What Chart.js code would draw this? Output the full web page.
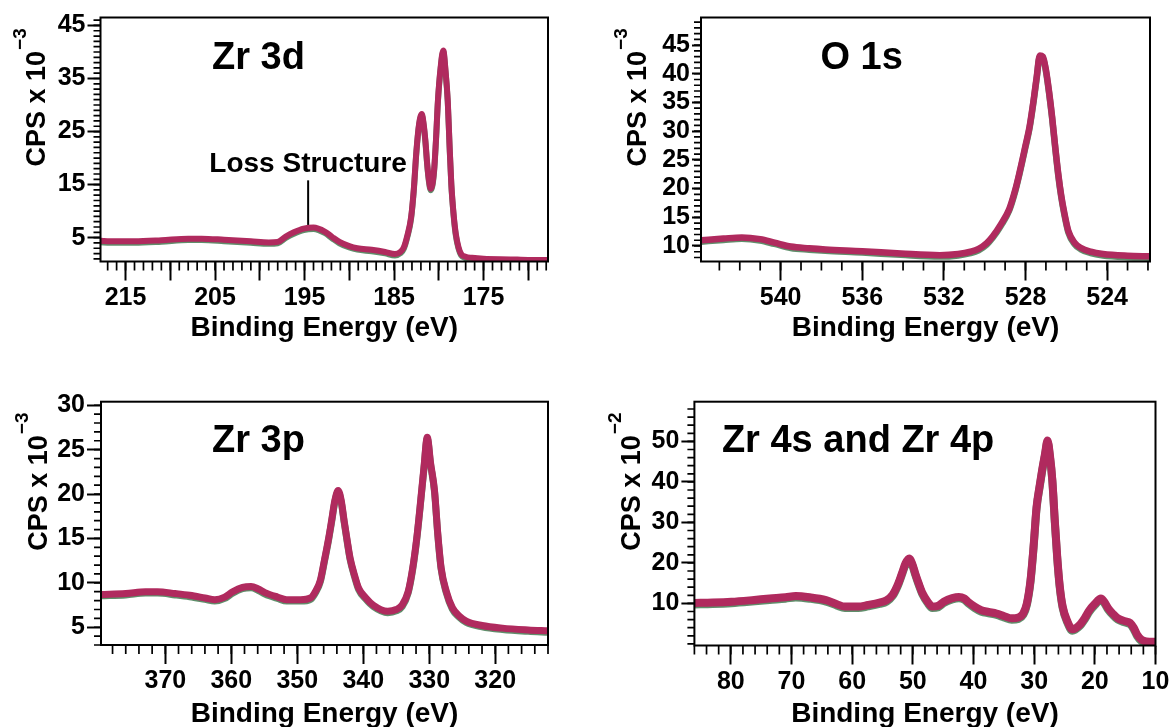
<!DOCTYPE html>
<html>
<head>
<meta charset="utf-8">
<script src="https://cdn.jsdelivr.net/npm/chart.js@4.4.1/dist/chart.umd.min.js"></script>
<style>
html,body{margin:0;padding:0;background:#fff;overflow:hidden;width:1171px;height:727px;}
canvas{position:absolute;left:0;top:0;}
</style>
</head>
<body>
<canvas id="c1" width="1200" height="760"></canvas>
<canvas id="c2" width="1200" height="760"></canvas>
<canvas id="c3" width="1200" height="760"></canvas>
<canvas id="c4" width="1200" height="760"></canvas>
<script>
// ---------------- DATA ----------------
// Zr 3d
const zr3dTitle = 'Zr 3d';
const zr3dEnergy = [217.8, 216.7, 214, 211, 208, 206.5, 204, 201, 199, 198, 197.1, 196.2, 195.1, 194, 192.7, 191.9, 191.1, 190, 189.1, 187.5, 186, 184.9, 184.3, 183.9, 183.5, 183.1, 182.8, 182.5, 182.2, 181.9, 181.7, 181.5, 181.3, 181.1, 180.9, 180.7, 180.5, 180.3, 180.1, 179.8, 179.5, 179.25, 179.0, 178.8, 178.6, 178.35, 178.1, 177.8, 177.5, 177, 176.3, 175, 172, 170, 167.8];
const zr3dCps = [4.4, 4.3, 4.3, 4.5, 4.8, 4.8, 4.6, 4.3, 4.1, 4.2, 5.2, 6.0, 6.7, 6.9, 6.1, 5.1, 4.2, 3.4, 3.0, 2.7, 2.3, 1.9, 2.3, 3.2, 5.5, 8.8, 14, 21.4, 26.5, 28.3, 26.5, 23.3, 19, 15.8, 14.2, 15.2, 18.3, 24, 30.8, 37, 40.3, 36.5, 30.8, 22.5, 15.1, 9.5, 5.7, 3.2, 1.9, 1.4, 1.2, 1.0, 0.9, 0.8, 0.8];
const zr3dXTicks = [215, 210, 205, 200, 195, 190, 185, 180, 175, 170];
const zr3dXLabels = [215, 205, 195, 185, 175];
const zr3dYLabels = [5, 15, 25, 35, 45];
const zr3dNote = 'Loss Structure';

// O 1s
const o1sTitle = 'O 1s';
const o1sEnergy = [543.9, 542.8, 541.9, 541.0, 540.3, 539.5, 538.6, 537.8, 536.0, 534.1, 532.2, 531.3, 530.7, 530.3, 529.9, 529.6, 529.2, 528.8, 528.5, 528.3, 528.0, 527.8, 527.6, 527.45, 527.3, 527.15, 527.0, 526.85, 526.7, 526.55, 526.4, 526.25, 526.1, 525.9, 525.6, 525.3, 524.8, 524.2, 523, 521.9];
const o1sCps = [11.0, 11.3, 11.5, 11.2, 10.6, 9.9, 9.6, 9.4, 9.1, 8.7, 8.4, 8.6, 9.0, 9.5, 10.5, 11.7, 13.8, 16.4, 19.8, 22.7, 27.5, 30.8, 35.5, 39.5, 43.2, 43.0, 40.7, 37.0, 32.6, 27.5, 22.7, 18.8, 15.8, 12.6, 10.6, 9.7, 9.0, 8.6, 8.3, 8.2];
const o1sXLabels = [540, 536, 532, 528, 524];
const o1sYLabels = [10, 15, 20, 25, 30, 35, 40, 45];

// Zr 3p
const zr3pTitle = 'Zr 3p';
const zr3pEnergy = [379.75, 376, 373, 371.2, 368.5, 366.3, 364, 362.5, 361, 359.8, 358.3, 357, 355.9, 354.9, 353, 351.6, 349.5, 348, 347.2, 346.5, 345.9, 345.3, 344.8, 344.3, 343.8, 343.35, 342.9, 342.4, 342.0, 341.3, 340.7, 339.6, 338.5, 336.3, 335, 334.1, 333.2, 332.5, 331.9, 331.4, 330.8, 330.3, 329.8, 329.2, 328.7, 328.2, 327.4, 326.5, 325.5, 324.4, 322, 318.9, 315, 312];
const zr3pCps = [8.7, 8.8, 9.0, 9.0, 8.8, 8.6, 8.3, 8.1, 8.4, 9.0, 9.5, 9.6, 9.3, 8.9, 8.4, 8.1, 8.1, 8.3, 9.1, 10.3, 12.5, 14.8, 17.0, 19.3, 20.4, 19.3, 17.0, 14.6, 12.8, 10.8, 9.4, 8.3, 7.5, 6.8, 7.0, 7.5, 9.0, 11.7, 15, 18.5, 23, 26.4, 23.5, 20.4, 15.5, 11.7, 9, 7.2, 6.3, 5.7, 5.2, 4.9, 4.7, 4.6];
const zr3pXLabels = [370, 360, 350, 340, 330, 320];
const zr3pYLabels = [5, 10, 15, 20, 25, 30];

// Zr 4s and Zr 4p
const zr4Title = 'Zr 4s and Zr 4p';
const zr4Energy = [86, 83, 79.9, 76.5, 73.6, 71, 69.3, 67, 64.3, 62.5, 61.2, 59, 57.4, 55.5, 54.3, 53.3, 52.4, 51.7, 51.2, 50.6, 50.1, 49.6, 49, 48.4, 47.6, 46.8, 45.8, 44.9, 43.5, 42.4, 41.5, 40.9, 39.8, 38.7, 37.5, 36.2, 35, 33.7, 32.6, 31.8, 31.2, 30.6, 30.1, 29.6, 29.1, 28.7, 28.2, 27.8, 27.4, 27.0, 26.6, 26.2, 25.8, 25.3, 24.5, 23.7, 22.5, 21.7, 20.9, 20, 19.0, 18.4, 17.8, 17, 16.2, 15, 14.2, 13.6, 13.0, 12.3, 11.5, 10];
const zr4Cps = [10.1, 10.2, 10.4, 10.8, 11.2, 11.5, 11.8, 11.5, 10.8, 9.8, 9.2, 9.2, 9.6, 10.2, 10.8, 12.2, 14.9, 17.8, 19.9, 21.1, 19.8, 17.4, 14.8, 12.5, 10.5, 9.2, 9.4, 10.4, 11.3, 11.6, 11.2, 10.4, 9.2, 8.3, 7.9, 7.5, 6.9, 6.3, 6.5, 7.5, 10, 15.7, 24, 33.8, 39, 42.8, 47, 50.2, 46.5, 40.4, 30.5, 21.5, 14.5, 9.2, 5.5, 3.6, 4.7, 6.3, 8.3, 9.9, 11.2, 10.3, 8.8, 7.4, 6.3, 5.6, 5.2, 4.0, 2.2, 1.0, 0.6, 0.5];
const zr4XLabels = [80, 70, 60, 50, 40, 30, 20, 10];
const zr4YLabels = [10, 20, 30, 40, 50];

const xTitleText = 'Binding Energy (eV)';
const yTitleText = 'CPS x 10';

// ---------------- STYLE / LAYOUT ----------------
const FONT = "'Liberation Sans', Arial, Helvetica, sans-serif";
Chart.defaults.font.family = FONT;
const CW = 1200, CH = 760, YW = 70, XH = 90;
const LINE = '#b02a5e';

const panels = [
  { id: 'c1', energy: zr3dEnergy, cps: zr3dCps, xTicks: zr3dXTicks, xLabels: zr3dXLabels, yLabels: zr3dYLabels,
    title: zr3dTitle, sup: '\u22123', box: {L: 100.5, R: 548, T: 17.5, B: 261.5}, xr: [167.8, 217.8], yr: [0.5, 46.5],
    xMinor: 1, yMinor: 1, yMajorLen: 13, titleDx: 111.5, titleDy: 51, xTitlePad: 6.6, yTitleDx: 55.5, lw: 6,
    note: {text: zr3dNote, e: 194.6, textY: 17.3, top: 15.8, bottom: 7.4} },
  { id: 'c2', energy: o1sEnergy, cps: o1sCps, xTicks: o1sXLabels, xLabels: o1sXLabels, yLabels: o1sYLabels,
    title: o1sTitle, sup: '\u22123', box: {L: 701, R: 1150, T: 17.5, B: 261.5}, xr: [521.9, 543.9], yr: [7.3, 49.8],
    xMinor: 1, yMinor: 1, yMajorLen: 9, titleDx: 119.5, titleDy: 51, xTitlePad: 6.6, yTitleDx: 55, lw: 6.5 },
  { id: 'c3', energy: zr3pEnergy, cps: zr3pCps, xTicks: zr3pXLabels, xLabels: zr3pXLabels, yLabels: zr3pYLabels,
    title: zr3pTitle, sup: '\u22123', box: {L: 101, R: 548, T: 401.7, B: 645}, xr: [312, 379.75], yr: [3.0, 30.4],
    xMinor: 2, yMinor: 1, yMajorLen: 14, titleDx: 111, titleDy: 50, xTitlePad: 4.1, yTitleDx: 54.5, lw: 7 },
  { id: 'c4', energy: zr4Energy, cps: zr4Cps, xTicks: zr4XLabels, xLabels: zr4XLabels, yLabels: zr4YLabels,
    title: zr4Title, sup: '\u22122', box: {L: 694.4, R: 1155.5, T: 401.7, B: 645.5}, xr: [10, 86], yr: [-0.4, 59.8],
    xMinor: 2, yMinor: 2, yMajorLen: 13, titleDx: 27.5, titleDy: 50, xTitlePad: 4.6, yTitleDx: 54.4, lw: 8 }
];

const decor = {
  id: 'decor',
  beforeDatasetsDraw(chart) {
    const ctx = chart.ctx;
    ctx.save();
    ctx.shadowColor = 'rgba(55,115,70,0.8)';
    ctx.shadowOffsetX = 0;
    ctx.shadowOffsetY = 1.4;
    ctx.shadowBlur = 0;
  },
  afterDatasetsDraw(chart) {
    chart.ctx.restore();
  },
  afterDraw(chart) {
    const p = chart.options.plugins.decor;
    const ctx = chart.ctx, a = chart.chartArea;
    const xs = chart.scales.x, ys = chart.scales.y;
    ctx.save();
    // frame
    ctx.strokeStyle = '#000';
    ctx.lineWidth = 2;
    ctx.strokeRect(a.left, a.top, a.right - a.left, a.bottom - a.top);
    // minor ticks
    ctx.lineWidth = 1.7;
    ctx.beginPath();
    for (let i = Math.ceil(xs.min / p.xMinor); i * p.xMinor <= xs.max + 1e-9; i++) {
      const px = xs.getPixelForValue(i * p.xMinor);
      ctx.moveTo(px, a.bottom);
      ctx.lineTo(px, a.bottom + 9);
    }
    for (let i = Math.ceil(ys.min / p.yMinor); i * p.yMinor <= ys.max + 1e-9; i++) {
      const py = ys.getPixelForValue(i * p.yMinor);
      ctx.moveTo(a.left, py);
      ctx.lineTo(a.left - 7, py);
    }
    ctx.stroke();
    // panel title
    ctx.fillStyle = '#000';
    ctx.font = 'bold 38px ' + FONT;
    ctx.textAlign = 'left';
    ctx.textBaseline = 'alphabetic';
    ctx.fillText(p.title, a.left + p.titleDx, a.top + p.titleDy);
    // y title with superscript
    ctx.save();
    ctx.translate(a.left - p.yTitleDx, a.top + 149);
    ctx.rotate(-Math.PI / 2);
    ctx.font = 'bold 27px ' + FONT;
    ctx.fillText(yTitleText, 0, 0);
    const w = ctx.measureText(yTitleText).width;
    ctx.font = 'bold 19px ' + FONT;
    ctx.fillText(p.sup, w + 1, -19);
    ctx.restore();
    // annotation
    if (p.note) {
      const nx = xs.getPixelForValue(p.note.e);
      ctx.lineWidth = 2;
      ctx.beginPath();
      ctx.moveTo(nx, ys.getPixelForValue(p.note.top));
      ctx.lineTo(nx, ys.getPixelForValue(p.note.bottom));
      ctx.stroke();
      ctx.font = 'bold 28px ' + FONT;
      ctx.textAlign = 'center';
      ctx.fillText(p.note.text, nx, ys.getPixelForValue(p.note.textY));
    }
    ctx.restore();
  }
};

panels.forEach(p => {
  const pts = p.energy.map((e, i) => ({x: e, y: p.cps[i]}));
  const tickFont = {size: 25, weight: 'bold', lineHeight: 1.2};
  new Chart(document.getElementById(p.id), {
    type: 'line',
    data: { datasets: [{ data: pts, borderColor: LINE, borderWidth: p.lw, pointRadius: 0,
      cubicInterpolationMode: 'monotone', fill: false, borderCapStyle: 'round', borderJoinStyle: 'round' }] },
    options: {
      responsive: false, animation: false, events: [],
      layout: { padding: { left: p.box.L - YW, top: p.box.T, right: CW - p.box.R, bottom: CH - p.box.B - XH } },
      plugins: { legend: {display: false}, tooltip: {enabled: false}, decor: p },
      scales: {
        x: {
          type: 'linear', reverse: true, min: p.xr[0], max: p.xr[1],
          afterBuildTicks: s => { s.ticks = p.xTicks.slice().sort((a, b) => a - b).map(v => ({value: v})); },
          afterFit: s => { s.height = XH; },
          ticks: { font: tickFont, color: '#000', padding: 2.5, maxRotation: 0, autoSkip: false,
            callback: v => p.xLabels.includes(v) ? String(v) : '' },
          grid: { drawOnChartArea: false, drawTicks: true, tickLength: 19, tickWidth: 2, tickColor: '#000' },
          border: { display: false },
          title: { display: true, text: xTitleText, color: '#000',
            font: {size: 28, weight: 'bold', lineHeight: 1.2}, padding: {top: 0, bottom: p.xTitlePad} }
        },
        y: {
          type: 'linear', min: p.yr[0], max: p.yr[1],
          afterBuildTicks: s => { s.ticks = p.yLabels.map(v => ({value: v})); },
          afterFit: s => { s.width = YW; },
          ticks: { font: tickFont, color: '#000', padding: 2, autoSkip: false, callback: v => String(v) },
          grid: { drawOnChartArea: false, drawTicks: true, tickLength: p.yMajorLen, tickWidth: 2, tickColor: '#000' },
          border: { display: false }
        }
      }
    },
    plugins: [decor]
  });
});
</script>
</body>
</html>
